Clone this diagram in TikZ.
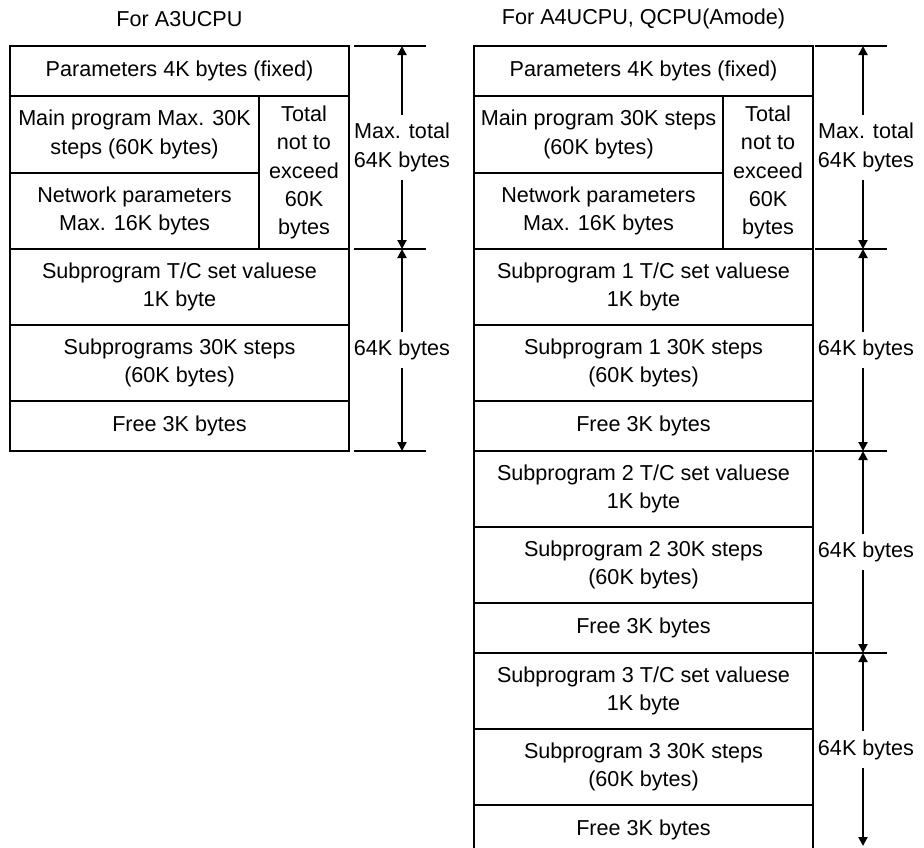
\documentclass[tikz,border=0pt]{standalone}
\usepackage{fontspec}
\setmainfont{Liberation Sans}
\usepackage{tikz}
\usetikzlibrary{positioning,arrows.meta}
\tikzset{
  txt/.style={font=\fontsize{10.8pt}{14.2pt}\selectfont},
  cell/.style={txt, rectangle, draw, line width=0.65pt, inner sep=0pt, outer sep=0pt, align=center},
  wide/.style={cell, minimum width=169.5pt},
  part/.style={cell, minimum width=124.5pt},
  side/.style={cell, minimum width=45pt, minimum height=76.5pt},
  dim/.style={{Triangle[length=4.5pt,width=4.5pt]}-{Triangle[length=4.5pt,width=4.5pt]}, line width=1pt},
  tick/.style={line width=1pt},
  dimlab/.style={txt, fill=white, align=center, inner xsep=0pt, inner ysep=4pt}
}
\begin{document}
\begin{tikzpicture}[x=0.5pt, y=-0.5pt]
\useasboundingbox (0,0) rectangle (924,847);
\node[txt] (ltitle) at (179.5,19) {For A3UCPU};
\node[txt] (rtitle) at (643.5,19) {For A4UCPU, QCPU(Amode)};

% A3UCPU
\node[wide, minimum height=25pt, anchor=north west] (lpar) at (10,46) {Parameters 4K bytes (fixed)};
\node[part, minimum height=38.5pt, below=0pt of lpar.south west, anchor=north west] (lmain) {Main program Max. 30K\\steps (60K bytes)};
\node[part, minimum height=38pt, below=0pt of lmain] (lnet) {Network parameters\\Max. 16K bytes};
\node[side, below=0pt of lpar.south east, anchor=north east] (ltot) {Total\\not to\\exceed\\60K\\bytes};
\node[wide, minimum height=38pt, below=0pt of lnet.south west, anchor=north west] (ltc) {Subprogram T/C set valuese\\1K byte};
\node[wide, minimum height=38pt, below=0pt of ltc] (lsub) {Subprograms 30K steps\\(60K bytes)};
\node[wide, minimum height=25pt, below=0pt of lsub] (lfree) {Free 3K bytes};

% A4UCPU, QCPU(Amode)
\node[wide, minimum height=25pt, anchor=north west] (rpar) at (474,46) {Parameters 4K bytes (fixed)};
\node[part, minimum height=38.5pt, below=0pt of rpar.south west, anchor=north west] (rmain) {Main program 30K steps\\(60K bytes)};
\node[part, minimum height=38pt, below=0pt of rmain] (rnet) {Network parameters\\Max. 16K bytes};
\node[side, below=0pt of rpar.south east, anchor=north east] (rtot) {Total\\not to\\exceed\\60K\\bytes};
\foreach \i/\prev in {1/rnet, 2/rfree1, 3/rfree2} {
  \node[wide, minimum height=38pt, below=0pt of \prev.south west, anchor=north west] (rtc\i) {Subprogram \i\ T/C set valuese\\1K byte};
  \node[wide, minimum height=38pt, below=0pt of rtc\i] (rsub\i) {Subprogram \i\ 30K steps\\(60K bytes)};
  \node[wide, minimum height=25pt, below=0pt of rsub\i] (rfree\i) {Free 3K bytes};
}

% size marks
\foreach \y [count=\k] in {46,249,451} {
  \draw[tick] (354,\y) -- (426,\y);
  \coordinate (lm\k) at (402,\y);
}
\foreach \y [count=\k] in {46,249,451,653} {
  \draw[tick] (815,\y) -- (887,\y);
  \coordinate (rm\k) at (863,\y);
}
\coordinate (rm5) at (863,846);
\draw[dim] (lm1) -- (lm2) node[dimlab, midway] (lmax) {Max. total\\64K bytes};
\draw[dim] (lm2) -- (lm3) node[dimlab, midway] (lsize) {64K bytes};
\draw[dim] (rm1) -- (rm2) node[dimlab, midway, xshift=1.5pt] (rmax) {Max. total\\64K bytes};
\draw[dim] (rm2) -- (rm3) node[dimlab, midway, xshift=1.5pt] (rsize1) {64K bytes};
\draw[dim] (rm3) -- (rm4) node[dimlab, midway, xshift=1.5pt] (rsize2) {64K bytes};
\draw[dim] (rm4) -- (rm5) node[dimlab, midway, xshift=1.5pt] (rsize3) {64K bytes};
\end{tikzpicture}
\end{document}
